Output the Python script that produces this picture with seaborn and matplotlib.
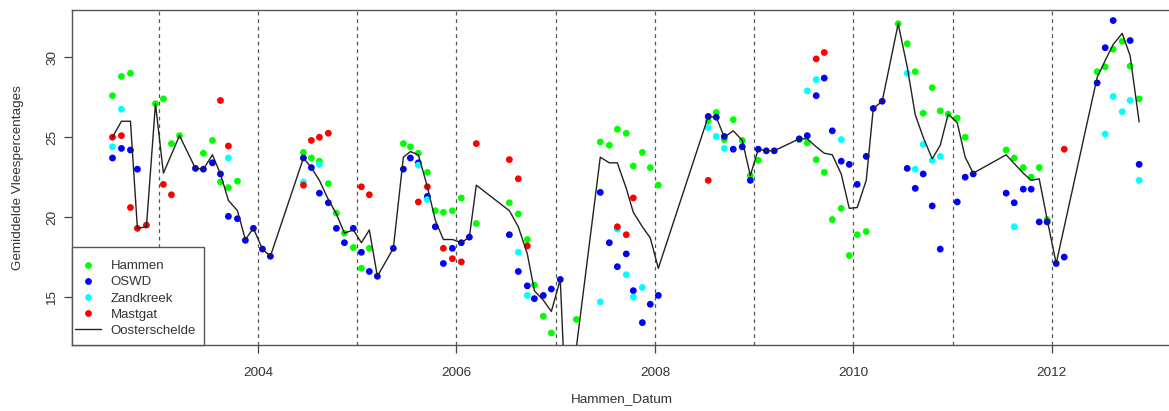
import pandas as pd
import seaborn as sns
import matplotlib.pyplot as plt
from matplotlib.patches import Rectangle

sns.set_style("white")
plt.rcParams['font.family'] = ['Liberation Sans', 'DejaVu Sans']

# meetdata per locatie (decimale jaren, vleespercentage)
hammen_datum = [2002.534, 2002.624, 2002.715, 2002.967, 2003.047, 2003.128, 2003.209, 2003.450,
                2003.541, 2003.622, 2003.702, 2003.793, 2004.458, 2004.538, 2004.619, 2004.709,
                2004.790, 2004.871, 2004.961, 2005.042, 2005.122, 2005.465, 2005.536, 2005.616,
                2005.707, 2005.787, 2005.868, 2005.959, 2006.049, 2006.200, 2006.533, 2006.623,
                2006.714, 2006.785, 2006.875, 2006.956, 2007.208, 2007.449, 2007.540, 2007.621,
                2007.711, 2007.782, 2007.873, 2007.953, 2008.034, 2008.537, 2008.618, 2008.699,
                2008.789, 2008.880, 2008.961, 2009.041, 2009.454, 2009.535, 2009.625, 2009.706,
                2009.787, 2009.877, 2009.958, 2010.038, 2010.129, 2010.451, 2010.542, 2010.623,
                2010.703, 2010.794, 2010.875, 2010.955, 2011.046, 2011.126, 2011.539, 2011.620,
                2011.711, 2011.791, 2011.872, 2011.952, 2012.456, 2012.537, 2012.617, 2012.708,
                2012.788, 2012.879]
hammen_vlees = [27.6, 28.8, 29.0, 27.1, 27.4, 24.6, 25.1, 24.0,
                24.8, 22.2, 21.85, 22.25, 24.05, 23.7, 23.5, 22.1,
                20.25, 19.0, 18.1, 16.8, 18.05, 24.6, 24.4, 24.0,
                22.8, 20.4, 20.3, 20.4, 21.2, 19.6, 20.9, 20.2,
                18.6, 15.75, 13.8, 12.75, 13.6, 24.7, 24.5, 25.5,
                25.25, 23.2, 24.05, 23.1, 22.0, 26.0, 26.55, 24.85,
                26.1, 24.8, 22.6, 23.55, 24.85, 24.65, 23.6, 22.8,
                19.85, 20.55, 17.6, 18.9, 19.1, 32.1, 30.85, 29.1,
                26.5, 28.1, 26.65, 26.45, 26.2, 25.0, 24.2, 23.7,
                23.1, 22.5, 23.1, 19.85, 29.1, 29.4, 30.5, 31.0,
                29.45, 27.4]

oswd_datum = [2002.534, 2002.624, 2002.715, 2002.785, 2003.370, 2003.450, 2003.541, 2003.622,
              2003.702, 2003.793, 2003.873, 2003.954, 2004.045, 2004.125, 2004.458, 2004.538,
              2004.619, 2004.709, 2004.790, 2004.871, 2004.961, 2005.042, 2005.122, 2005.203,
              2005.364, 2005.465, 2005.536, 2005.616, 2005.707, 2005.787, 2005.868, 2005.959,
              2006.049, 2006.130, 2006.533, 2006.623, 2006.714, 2006.785, 2006.875, 2006.956,
              2007.046, 2007.449, 2007.540, 2007.621, 2007.711, 2007.782, 2007.873, 2007.953,
              2008.034, 2008.537, 2008.618, 2008.699, 2008.789, 2008.880, 2008.961, 2009.041,
              2009.122, 2009.202, 2009.454, 2009.535, 2009.625, 2009.706, 2009.787, 2009.877,
              2009.958, 2010.038, 2010.129, 2010.200, 2010.290, 2010.542, 2010.623, 2010.703,
              2010.794, 2010.875, 2011.046, 2011.126, 2011.207, 2011.539, 2011.620, 2011.711,
              2011.791, 2011.872, 2011.952, 2012.043, 2012.124, 2012.456, 2012.537, 2012.617,
              2012.788, 2012.879]
oswd_vlees = [23.7, 24.3, 24.2, 23.0, 23.05, 23.0, 23.4, 22.7,
              20.05, 19.9, 18.55, 19.3, 18.0, 17.55, 23.7, 23.1,
              21.5, 20.9, 19.3, 18.4, 19.3, 17.8, 16.6, 16.3,
              18.05, 23.0, 23.7, 23.4, 21.3, 19.4, 17.1, 18.05,
              18.4, 18.75, 18.9, 16.6, 15.7, 14.9, 15.1, 15.5,
              16.1, 21.55, 18.4, 16.9, 17.7, 15.4, 13.4, 14.55,
              15.1, 26.3, 26.25, 25.05, 24.25, 24.4, 22.3, 24.25,
              24.15, 24.15, 24.9, 25.1, 27.6, 28.7, 25.4, 23.5,
              23.3, 22.05, 23.8, 26.8, 27.25, 23.05, 21.8, 22.7,
              20.7, 18.0, 20.95, 22.5, 22.7, 21.5, 20.9, 21.75,
              21.75, 19.7, 19.7, 17.1, 17.5, 28.4, 30.6, 32.3,
              31.05, 23.3]

zandkreek_datum = [2002.534, 2002.624, 2003.702, 2004.458, 2004.619, 2005.616, 2005.707, 2006.623,
                   2006.714, 2007.449, 2007.621, 2007.711, 2007.782, 2007.873, 2008.537, 2008.618,
                   2008.699, 2009.535, 2009.625, 2009.877, 2010.542, 2010.623, 2010.703, 2010.794,
                   2010.875, 2011.620, 2012.537, 2012.617, 2012.708, 2012.788, 2012.879]
zandkreek_vlees = [24.4, 26.75, 23.7, 22.2, 23.3, 23.25, 21.1, 17.8,
                   15.1, 14.7, 19.25, 16.4, 15.0, 15.6, 25.6, 25.05,
                   24.3, 27.9, 28.6, 24.85, 29.0, 23.0, 24.55, 23.55,
                   23.8, 19.4, 25.2, 27.55, 26.6, 27.3, 22.3]

mastgat_datum = [2002.534, 2002.624, 2002.715, 2002.785, 2002.876, 2003.047, 2003.128, 2003.622,
                 2003.702, 2004.458, 2004.538, 2004.619, 2004.709, 2005.042, 2005.122, 2005.616,
                 2005.707, 2005.868, 2005.959, 2006.049, 2006.200, 2006.533, 2006.623, 2006.714,
                 2007.621, 2007.711, 2007.782, 2008.537, 2009.625, 2009.706, 2012.124]
mastgat_vlees = [25.0, 25.1, 20.6, 19.3, 19.5, 22.05, 21.4, 27.3,
                 24.45, 22.0, 24.8, 25.0, 25.25, 21.9, 21.4, 20.95,
                 21.9, 18.05, 17.4, 17.2, 24.6, 23.6, 22.4, 18.2,
                 19.4, 18.9, 21.2, 22.3, 29.9, 30.3, 24.25]

os_datum = [2002.534, 2002.624, 2002.715, 2002.785, 2002.876, 2002.967, 2003.047, 2003.209,
            2003.370, 2003.450, 2003.541, 2003.622, 2003.702, 2003.793, 2003.873, 2003.954,
            2004.045, 2004.125, 2004.458, 2004.538, 2004.619, 2004.709, 2004.790, 2004.871,
            2004.961, 2005.042, 2005.122, 2005.203, 2005.364, 2005.465, 2005.536, 2005.616,
            2005.707, 2005.787, 2005.868, 2005.959, 2006.049, 2006.130, 2006.200, 2006.533,
            2006.623, 2006.714, 2006.785, 2006.875, 2006.956, 2007.046, 2007.110, 2007.449,
            2007.540, 2007.621, 2007.711, 2007.782, 2007.873, 2007.953, 2008.034, 2008.537,
            2008.618, 2008.699, 2008.789, 2008.880, 2008.961, 2009.041, 2009.122, 2009.202,
            2009.454, 2009.535, 2009.625, 2009.706, 2009.787, 2009.877, 2009.958, 2010.038,
            2010.129, 2010.200, 2010.290, 2010.451, 2010.542, 2010.623, 2010.703, 2010.794,
            2010.875, 2010.955, 2011.046, 2011.126, 2011.207, 2011.539, 2011.620, 2011.711,
            2011.791, 2011.872, 2011.952, 2012.043, 2012.456, 2012.537, 2012.617, 2012.708,
            2012.788, 2012.879]
os_vlees = [25.0, 26.0, 26.0, 19.3, 19.4, 27.1, 22.75, 25.1,
            23.05, 23.0, 23.9, 22.7, 21.05, 20.4, 18.6, 19.3,
            18.0, 17.55, 23.7, 23.1, 22.3, 21.1, 20.2, 19.0,
            19.2, 18.4, 19.2, 16.3, 18.05, 23.75, 24.1, 23.9,
            21.9, 19.8, 18.6, 18.6, 18.4, 18.75, 22.0, 20.4,
            19.4, 17.7, 15.4, 14.8, 14.1, 16.1, 7.0, 23.75,
            23.4, 23.4, 21.8, 20.3, 19.4, 18.7, 16.8, 26.3,
            26.25, 25.0, 25.4, 24.8, 22.6, 24.25, 24.15, 24.15,
            24.9, 24.9, 24.4, 24.0, 23.9, 22.7, 20.55, 20.6,
            22.3, 26.8, 27.25, 32.1, 29.4, 26.4, 25.0, 23.65,
            24.5, 26.45, 25.9, 23.75, 22.75, 23.9, 23.35, 22.75,
            22.3, 22.4, 19.85, 17.1, 28.75, 29.8, 30.8, 31.5,
            30.1, 25.95]

locaties = ['Hammen', 'OSWD', 'Zandkreek', 'Mastgat']
kleuren = ['#00ff00', '#0000ff', '#00ffff', '#ff0000']

frames = []
for naam, d, v in zip(locaties,
                      [hammen_datum, oswd_datum, zandkreek_datum, mastgat_datum],
                      [hammen_vlees, oswd_vlees, zandkreek_vlees, mastgat_vlees]):
    frames.append(pd.DataFrame({'Datum': d, 'Vlees': v, 'Locatie': naam}))
df = pd.concat(frames, ignore_index=True)

fig = plt.figure(figsize=(11.69, 4.11), dpi=100)
ax = fig.add_axes([72 / 1169, 66 / 411, 1100 / 1169, 335 / 411])

for jaar in range(2003, 2013):
    ax.axvline(jaar, color='#555555', ls=(0, (3, 3)), lw=0.9, zorder=0)

sns.scatterplot(data=df, x='Datum', y='Vlees', hue='Locatie', hue_order=locaties,
                palette=dict(zip(locaties, kleuren)), s=24, edgecolor='none',
                linewidth=0, ax=ax, zorder=2)
sns.lineplot(x=os_datum, y=os_vlees, ax=ax, color='#222222', lw=1.0, sort=False,
             estimator=None, label='Oosterschelde', zorder=3)

ax.set_xlim(2002.126, 2013.21)
ax.set_ylim(12.0, 32.96)
ax.set_xticks([2004, 2006, 2008, 2010, 2012])
ax.set_yticks([15, 20, 25, 30])
ax.tick_params(axis='both', direction='out', length=6, width=0.9, color='#444444',
               labelsize=9.7, labelcolor='#333333', bottom=True, left=True)
ax.tick_params(axis='x', pad=10)
ax.tick_params(axis='y', pad=4)
for lab in ax.get_yticklabels():
    lab.set_rotation(90)
    lab.set_va('center')
for s in ax.spines.values():
    s.set_color('#555555')
    s.set_linewidth(1.0)
ax.spines['right'].set_visible(False)

ax.set_xlabel('Hammen_Datum', fontsize=9.7, color='#333333', labelpad=10)
ax.set_ylabel('Gemiddelde Vleespercentages', fontsize=9.7, color='#333333', labelpad=16)

# legendekader zoals in R: weinig ruimte opzij, meer boven en onder
ax.add_patch(Rectangle((0, 0), 132 / 1100, 98 / 335, transform=ax.transAxes,
                       facecolor='white', edgecolor='#555555', lw=1.0, zorder=4,
                       clip_on=False))

handles, labels = ax.get_legend_handles_labels()
volg = [labels.index(n) for n in locaties + ['Oosterschelde']]
leg = ax.legend([handles[i] for i in volg], [labels[i] for i in volg], loc='lower left',
                bbox_to_anchor=(3 / 1100, 8 / 335), fontsize=9.5, frameon=False,
                borderaxespad=0, borderpad=0, handlelength=2.0, handletextpad=0.7,
                labelspacing=0.3)
leg.set_zorder(5)
for t in leg.get_texts():
    t.set_color('#333333')

fig.savefig('out.png', dpi=100)
